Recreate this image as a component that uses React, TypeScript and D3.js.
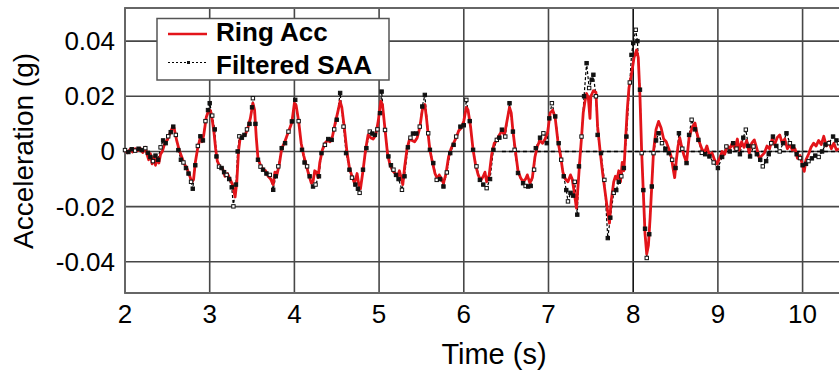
import React, { useEffect, useRef } from "react";
import * as d3 from "d3";

// Ring Acc (red) as [time s, acceleration g]
const ringAcc: [number, number][] = [
  [2.0, 0.0005], [2.03, -0.0005], [2.06, 0.0008], [2.09, -0.0002], [2.12, 0.001], [2.15, 0.0003],
  [2.18, 0.0012], [2.21, -0.0004], [2.24, 0.0015], [2.26, -0.001], [2.28, -0.003], [2.3, -0.0008],
  [2.32, -0.0045], [2.34, -0.002], [2.36, -0.005], [2.38, -0.0025], [2.4, -0.0042], [2.42, -0.001],
  [2.44, 0.0], [2.47, 0.003], [2.5, 0.0042], [2.53, 0.0065], [2.56, 0.0088], [2.58, 0.0085],
  [2.61, 0.004], [2.64, 0.0005], [2.67, -0.002], [2.7, -0.0045], [2.73, -0.006], [2.76, -0.0085],
  [2.79, -0.0112], [2.81, -0.01], [2.83, -0.004], [2.86, 0.0015], [2.89, 0.005], [2.91, 0.0035],
  [2.93, 0.006], [2.96, 0.0125], [2.99, 0.015], [3.01, 0.0148], [3.03, 0.0115], [3.05, 0.007],
  [3.07, 0.001], [3.09, -0.0035], [3.12, -0.0055], [3.15, -0.006], [3.18, -0.009], [3.21, -0.008],
  [3.24, -0.01], [3.27, -0.012], [3.3, -0.0165], [3.32, -0.011], [3.34, 0.0], [3.36, 0.005],
  [3.39, 0.0055], [3.42, 0.006], [3.45, 0.0085], [3.48, 0.012], [3.51, 0.0175], [3.53, 0.015],
  [3.55, 0.005], [3.57, -0.0025], [3.6, -0.005], [3.63, -0.0065], [3.66, -0.007], [3.69, -0.009],
  [3.72, -0.01], [3.75, -0.012], [3.77, -0.0075], [3.79, -0.009], [3.82, -0.005], [3.85, 0.001],
  [3.88, 0.003], [3.91, 0.0055], [3.94, 0.008], [3.97, 0.0105], [4.0, 0.0175], [4.02, 0.0168],
  [4.05, 0.011], [4.08, 0.003], [4.11, -0.0015], [4.14, -0.005], [4.17, -0.0085], [4.2, -0.0115],
  [4.22, -0.011], [4.24, -0.007], [4.26, -0.0075], [4.28, -0.0095], [4.3, -0.004], [4.33, 0.0005],
  [4.36, 0.003], [4.39, 0.004], [4.42, 0.0035], [4.45, 0.0055], [4.48, 0.01], [4.51, 0.014],
  [4.54, 0.0182], [4.56, 0.016], [4.59, 0.0085], [4.62, 0.0], [4.65, -0.006], [4.68, -0.009],
  [4.71, -0.0115], [4.74, -0.008], [4.76, -0.012], [4.78, -0.0135], [4.81, -0.007], [4.84, 0.0005],
  [4.87, 0.006], [4.9, 0.005], [4.93, 0.0045], [4.96, 0.006], [4.99, 0.011], [5.02, 0.0182],
  [5.04, 0.017], [5.07, 0.008], [5.1, -0.001], [5.13, -0.005], [5.16, -0.007], [5.19, -0.008],
  [5.22, -0.009], [5.24, -0.007], [5.26, -0.0095], [5.28, -0.012], [5.3, -0.006], [5.33, 0.001],
  [5.36, 0.0045], [5.39, 0.004], [5.42, 0.0035], [5.45, 0.005], [5.48, 0.0085], [5.51, 0.015],
  [5.54, 0.017], [5.56, 0.012], [5.58, 0.006], [5.6, 0.0005], [5.63, -0.004], [5.66, -0.008],
  [5.69, -0.01], [5.71, -0.0085], [5.73, -0.0095], [5.76, -0.0115], [5.79, -0.008], [5.82, -0.002],
  [5.85, 0.001], [5.88, 0.003], [5.91, 0.005], [5.94, 0.0075], [5.97, 0.0085], [6.0, 0.011],
  [6.03, 0.016], [6.05, 0.015], [6.08, 0.009], [6.11, 0.0005], [6.14, -0.005], [6.17, -0.0085],
  [6.2, -0.0105], [6.23, -0.009], [6.25, -0.0075], [6.27, -0.011], [6.3, -0.0085], [6.33, -0.001],
  [6.36, 0.003], [6.39, 0.004], [6.42, 0.006], [6.45, 0.0075], [6.48, 0.006], [6.51, 0.011],
  [6.54, 0.016], [6.56, 0.014], [6.58, 0.0075], [6.61, 0.0], [6.64, -0.007], [6.67, -0.0095],
  [6.7, -0.011], [6.73, -0.01], [6.75, -0.0085], [6.78, -0.0115], [6.81, -0.0095], [6.84, -0.002],
  [6.87, 0.002], [6.9, 0.004], [6.93, 0.003], [6.96, 0.0045], [6.99, 0.007], [7.02, 0.014],
  [7.05, 0.015], [7.08, 0.012], [7.11, 0.004], [7.14, -0.001], [7.17, -0.0075], [7.2, -0.01],
  [7.23, -0.011], [7.26, -0.0085], [7.28, -0.01], [7.3, -0.014], [7.33, -0.0205], [7.35, -0.012],
  [7.37, -0.003], [7.39, 0.005], [7.41, 0.014], [7.43, 0.018], [7.45, 0.021], [7.47, 0.0195],
  [7.49, 0.012], [7.5, 0.02], [7.53, 0.022], [7.56, 0.0215], [7.58, 0.009], [7.61, 0.0],
  [7.64, -0.008], [7.67, -0.015], [7.7, -0.022], [7.72, -0.026], [7.74, -0.018], [7.77, -0.011],
  [7.79, -0.009], [7.81, -0.01], [7.83, -0.007], [7.85, -0.011], [7.87, -0.004], [7.89, -0.007],
  [7.91, 0.004], [7.93, 0.015], [7.95, 0.023], [7.98, 0.028], [8.01, 0.034], [8.04, 0.0368],
  [8.06, 0.034], [8.08, 0.02], [8.1, 0.0], [8.12, -0.015], [8.14, -0.03], [8.16, -0.0372],
  [8.18, -0.034], [8.2, -0.024], [8.22, -0.012], [8.24, 0.0], [8.27, 0.008], [8.3, 0.0109],
  [8.33, 0.0085], [8.36, 0.0045], [8.39, 0.0035], [8.42, 0.001], [8.45, -0.002], [8.47, -0.006],
  [8.49, -0.0095], [8.51, -0.003], [8.53, 0.002], [8.55, 0.005], [8.57, 0.002], [8.6, -0.0015],
  [8.63, -0.004], [8.66, 0.005], [8.7, 0.009], [8.73, 0.0103], [8.75, 0.007], [8.78, 0.0035],
  [8.81, 0.001], [8.84, -0.0005], [8.87, 0.002], [8.9, -0.0015], [8.93, -0.0005], [8.96, -0.003],
  [8.99, -0.0045], [9.02, -0.0025], [9.05, 0.0], [9.08, -0.001], [9.11, 0.002], [9.14, 0.001],
  [9.17, 0.003], [9.2, 0.001], [9.23, 0.0045], [9.25, 0.0005], [9.28, 0.0035], [9.31, 0.0015],
  [9.34, 0.004], [9.37, -0.0005], [9.4, 0.003], [9.43, 0.0042], [9.46, 0.001], [9.49, -0.0025],
  [9.52, -0.0015], [9.55, -0.0005], [9.58, 0.002], [9.61, 0.001], [9.64, 0.0045], [9.67, 0.0025],
  [9.7, 0.005], [9.73, 0.006], [9.76, 0.003], [9.79, 0.0045], [9.82, 0.001], [9.85, 0.0025],
  [9.88, 0.0005], [9.91, 0.001], [9.94, -0.0025], [9.97, -0.0015], [10.0, -0.005], [10.02, -0.0072],
  [10.04, -0.003], [10.07, -0.001], [10.1, 0.0015], [10.13, 0.003], [10.16, 0.002], [10.19, 0.004],
  [10.22, 0.0025], [10.25, 0.0055], [10.28, 0.002], [10.31, 0.0035], [10.34, 0.001], [10.37, 0.003],
  [10.4, 0.0005], [10.43, 0.001],
];

// Filtered SAA (black dashed with markers)
const filteredSaa: [number, number][] = [
  [2.0, 0.0005], [2.04, -0.0002], [2.08, 0.0008], [2.12, 0.0003], [2.16, 0.001], [2.2, 0.0005],
  [2.24, 0.0012], [2.27, -0.0005], [2.3, -0.002], [2.33, -0.0035], [2.36, -0.0015], [2.39, -0.003],
  [2.42, 0.0015], [2.45, 0.004], [2.48, 0.003], [2.51, 0.0055], [2.54, 0.007], [2.57, 0.009],
  [2.6, 0.006], [2.63, 0.0005], [2.66, -0.003], [2.69, -0.004], [2.72, -0.006], [2.75, -0.008],
  [2.78, -0.011], [2.8, -0.0135], [2.83, -0.005], [2.86, 0.002], [2.89, 0.0055], [2.92, 0.004],
  [2.95, 0.011], [2.98, 0.015], [3.0, 0.0175], [3.03, 0.013], [3.06, 0.008], [3.08, -0.0018],
  [3.11, -0.0055], [3.14, -0.006], [3.17, -0.0075], [3.2, -0.0085], [3.23, -0.01], [3.26, -0.013],
  [3.28, -0.0199], [3.31, -0.012], [3.33, 0.0], [3.35, 0.0055], [3.38, 0.005], [3.41, 0.006],
  [3.44, 0.008], [3.47, 0.01], [3.5, 0.016], [3.51, 0.0193], [3.54, 0.01], [3.57, -0.003],
  [3.6, -0.0055], [3.63, -0.0066], [3.67, -0.008], [3.71, -0.0085], [3.75, -0.0139], [3.78, -0.009],
  [3.81, -0.0054], [3.85, 0.0012], [3.89, 0.003], [3.93, 0.0072], [3.97, 0.0109], [4.01, 0.0187],
  [4.05, 0.011], [4.09, 0.0006], [4.12, -0.004], [4.15, -0.0054], [4.18, -0.009], [4.22, -0.0127],
  [4.25, -0.012], [4.29, -0.009], [4.32, -0.0006], [4.36, 0.0024], [4.4, 0.0045], [4.44, 0.0042],
  [4.47, 0.008], [4.5, 0.0115], [4.54, 0.0212], [4.58, 0.009], [4.61, -0.0006], [4.65, -0.0066],
  [4.68, -0.0095], [4.72, -0.012], [4.75, -0.0135], [4.77, -0.015], [4.81, -0.0066], [4.85, 0.0012],
  [4.89, 0.0072], [4.92, 0.0065], [4.95, 0.006], [4.98, 0.008], [5.01, 0.0139], [5.03, 0.0217],
  [5.07, 0.0078], [5.11, -0.0018], [5.14, -0.005], [5.17, -0.0066], [5.2, -0.0085], [5.23, -0.01],
  [5.27, -0.0139], [5.3, -0.009], [5.34, 0.0015], [5.37, 0.005], [5.4, 0.0065], [5.44, 0.0065],
  [5.48, 0.009], [5.51, 0.0163], [5.54, 0.0205], [5.58, 0.0066], [5.6, 0.0006], [5.64, -0.0042],
  [5.68, -0.0103], [5.72, -0.01], [5.76, -0.0127], [5.8, -0.0076], [5.84, -0.0006], [5.88, 0.0024],
  [5.91, 0.0054], [5.96, 0.009], [6.0, 0.0095], [6.03, 0.0187], [6.07, 0.011], [6.11, 0.0006],
  [6.15, -0.0054], [6.19, -0.0103], [6.23, -0.012], [6.27, -0.0133], [6.31, -0.01], [6.35, 0.0006],
  [6.39, 0.0042], [6.42, 0.005], [6.45, 0.0079], [6.49, 0.0054], [6.54, 0.0175], [6.58, 0.0072],
  [6.6, 0.0006], [6.64, -0.0078], [6.7, -0.0115], [6.73, -0.0125], [6.76, -0.0127], [6.79, -0.0125],
  [6.83, -0.0066], [6.85, 0.0012], [6.9, 0.005], [6.94, 0.0066], [6.98, 0.003], [7.01, 0.012],
  [7.04, 0.0175], [7.08, 0.0127], [7.12, 0.003], [7.15, -0.003], [7.18, -0.009], [7.21, -0.014],
  [7.23, -0.0181], [7.26, -0.015], [7.29, -0.016], [7.31, -0.011], [7.34, -0.0229], [7.36, -0.0054],
  [7.39, 0.0054], [7.42, 0.02], [7.45, 0.032], [7.48, 0.023], [7.51, 0.026], [7.53, 0.0278],
  [7.56, 0.02], [7.58, 0.006], [7.62, -0.0006], [7.66, -0.0103], [7.7, -0.0314], [7.73, -0.024],
  [7.77, -0.015], [7.8, -0.014], [7.83, -0.011], [7.86, -0.009], [7.89, -0.006], [7.92, 0.0054],
  [7.96, 0.025], [7.98, 0.035], [8.0, 0.0393], [8.03, 0.0441], [8.05, 0.04], [8.08, 0.0224],
  [8.1, -0.0006], [8.12, -0.014], [8.14, -0.028], [8.16, -0.0386], [8.19, -0.03], [8.22, -0.0127],
  [8.24, -0.0006], [8.27, 0.004], [8.3, 0.0066], [8.34, 0.003], [8.38, 0.001], [8.42, -0.0006],
  [8.46, -0.003], [8.5, -0.006], [8.54, 0.0066], [8.58, 0.001], [8.63, -0.0042], [8.66, 0.006],
  [8.69, 0.0115], [8.73, 0.008], [8.77, 0.0042], [8.81, -0.0005], [8.85, -0.001], [8.9, -0.0018],
  [8.95, -0.004], [9.0, -0.006], [9.05, -0.002], [9.1, 0.0018], [9.14, 0.0], [9.18, 0.003],
  [9.22, 0.001], [9.26, -0.001], [9.3, 0.005], [9.33, 0.0079], [9.36, 0.002], [9.38, -0.0018],
  [9.42, 0.0018], [9.46, -0.001], [9.5, -0.003], [9.53, -0.0054], [9.57, -0.0035], [9.6, -0.001],
  [9.63, 0.003], [9.65, 0.0054], [9.69, 0.002], [9.73, 0.0], [9.77, 0.003], [9.81, 0.0066],
  [9.85, 0.003], [9.89, 0.0018], [9.93, -0.001], [9.97, -0.0024], [10.0, -0.005], [10.04, -0.0045],
  [10.07, -0.0035], [10.11, -0.0025], [10.15, -0.0015], [10.19, -0.002], [10.23, 0.0], [10.27, 0.0025],
  [10.31, 0.003], [10.36, 0.0054], [10.4, 0.004], [10.43, 0.003],
];

const xTicks = [2, 3, 4, 5, 6, 7, 8, 9, 10];
const yTicks = [-0.04, -0.02, 0, 0.02, 0.04];
const yTickLabels = ["-0.04", "-0.02", "0", "0.02", "0.04"];
const zeroDashFrom = 6.45;
const legendLabels = ["Ring Acc", "Filtered SAA"];

const App = () => {
  const svgRef = useRef<SVGSVGElement | null>(null);
  const width = 839;
  const height = 375;
  const plot = { left: 125, right: 839, top: 8, bottom: 293 };

  useEffect(() => {
    const svg = d3.select(svgRef.current).attr("width", width).attr("height", height);
    svg.selectAll("*").remove();

    const x = d3.scaleLinear().domain([2, 10.43]).range([plot.left, plot.right]);
    const y = d3.scaleLinear().domain([-0.0513, 0.052]).range([plot.bottom, plot.top]);
    const font = "Arial, 'Liberation Sans', sans-serif";
    const gridColor = "#474747";

    svg.append("rect").attr("width", width).attr("height", height).attr("fill", "#fff");

    // grid
    svg
      .selectAll(".vgrid")
      .data(xTicks)
      .enter()
      .append("line")
      .attr("x1", (d) => x(d))
      .attr("x2", (d) => x(d))
      .attr("y1", plot.top)
      .attr("y2", plot.bottom)
      .attr("stroke", (d) => (d === 8 ? "#111" : gridColor))
      .attr("stroke-width", 1.6);

    svg
      .selectAll(".hgrid")
      .data(yTicks)
      .enter()
      .append("line")
      .attr("x1", plot.left)
      .attr("x2", plot.right)
      .attr("y1", (d) => y(d))
      .attr("y2", (d) => y(d))
      .attr("stroke", gridColor)
      .attr("stroke-width", 1.6);

    // frame (top, left, bottom)
    svg
      .append("path")
      .attr("d", `M${plot.right},${plot.top}H${plot.left}V${plot.bottom}H${plot.right}`)
      .attr("fill", "none")
      .attr("stroke", "#666")
      .attr("stroke-width", 1.8);

    // tick labels
    svg
      .selectAll(".ylab")
      .data(yTicks)
      .enter()
      .append("text")
      .attr("x", 115)
      .attr("y", (d) => y(d) + 9)
      .attr("text-anchor", "end")
      .attr("font-family", font)
      .attr("font-size", 26)
      .attr("fill", "#000")
      .text((d, i) => yTickLabels[i]);

    svg
      .selectAll(".xlab")
      .data(xTicks)
      .enter()
      .append("text")
      .attr("x", (d) => x(d))
      .attr("y", 323)
      .attr("text-anchor", "middle")
      .attr("font-family", font)
      .attr("font-size", 26)
      .attr("fill", "#000")
      .text((d) => d);

    svg
      .append("text")
      .attr("x", 494)
      .attr("y", 364)
      .attr("text-anchor", "middle")
      .attr("font-family", font)
      .attr("font-size", 29)
      .text("Time (s)");

    svg
      .append("text")
      .attr("transform", `translate(33,${151}) rotate(-90)`)
      .attr("text-anchor", "middle")
      .attr("font-family", font)
      .attr("font-size", 28)
      .text("Acceleration (g)");

    // dashed zero reference
    svg
      .append("line")
      .attr("x1", x(zeroDashFrom))
      .attr("x2", plot.right)
      .attr("y1", y(0))
      .attr("y2", y(0))
      .attr("stroke", "#000")
      .attr("stroke-width", 1.5)
      .attr("stroke-dasharray", "4,3");

    const line = d3
      .line<[number, number]>()
      .x((d) => x(d[0]))
      .y((d) => y(d[1]));

    svg
      .append("path")
      .datum(filteredSaa)
      .attr("d", line)
      .attr("fill", "none")
      .attr("stroke", "#000")
      .attr("stroke-width", 1.2)
      .attr("stroke-dasharray", "3,2");

    svg
      .append("path")
      .datum(ringAcc)
      .attr("d", line)
      .attr("fill", "none")
      .attr("stroke", "#e3141a")
      .attr("stroke-width", 2.8)
      .attr("stroke-linejoin", "round");

    svg
      .selectAll(".mark")
      .data(filteredSaa)
      .enter()
      .append("rect")
      .attr("x", (d) => x(d[0]) - 1.7)
      .attr("y", (d) => y(d[1]) - 1.7)
      .attr("width", 3.4)
      .attr("height", 3.4)
      .attr("fill", (d, i) => (i % 3 === 0 ? "#fff" : "#111"))
      .attr("stroke", "#111")
      .attr("stroke-width", 1);

    // legend
    const lg = svg.append("g");
    lg.append("rect")
      .attr("x", 157)
      .attr("y", 18.5)
      .attr("width", 232)
      .attr("height", 61.5)
      .attr("fill", "#fff")
      .attr("stroke", "#555")
      .attr("stroke-width", 1.5);

    lg.append("line")
      .attr("x1", 168)
      .attr("x2", 207)
      .attr("y1", 34)
      .attr("y2", 34)
      .attr("stroke", "#e3141a")
      .attr("stroke-width", 2.4);

    lg.append("line")
      .attr("x1", 168)
      .attr("x2", 207)
      .attr("y1", 62.5)
      .attr("y2", 62.5)
      .attr("stroke", "#000")
      .attr("stroke-width", 1)
      .attr("stroke-dasharray", "2,2");

    lg.append("rect")
      .attr("x", 187)
      .attr("y", 61)
      .attr("width", 3)
      .attr("height", 3)
      .attr("fill", "#111");

    lg.selectAll(".ltxt")
      .data(legendLabels)
      .enter()
      .append("text")
      .attr("x", 216)
      .attr("y", (d, i) => 41 + i * 32.5)
      .attr("font-family", font)
      .attr("font-size", 26)
      .attr("font-weight", "bold")
      .attr("fill", "#000")
      .text((d) => d);
  }, []);

  return <svg ref={svgRef} style={{ position: "absolute", left: 0, top: 0 }}></svg>;
};

export default App;
